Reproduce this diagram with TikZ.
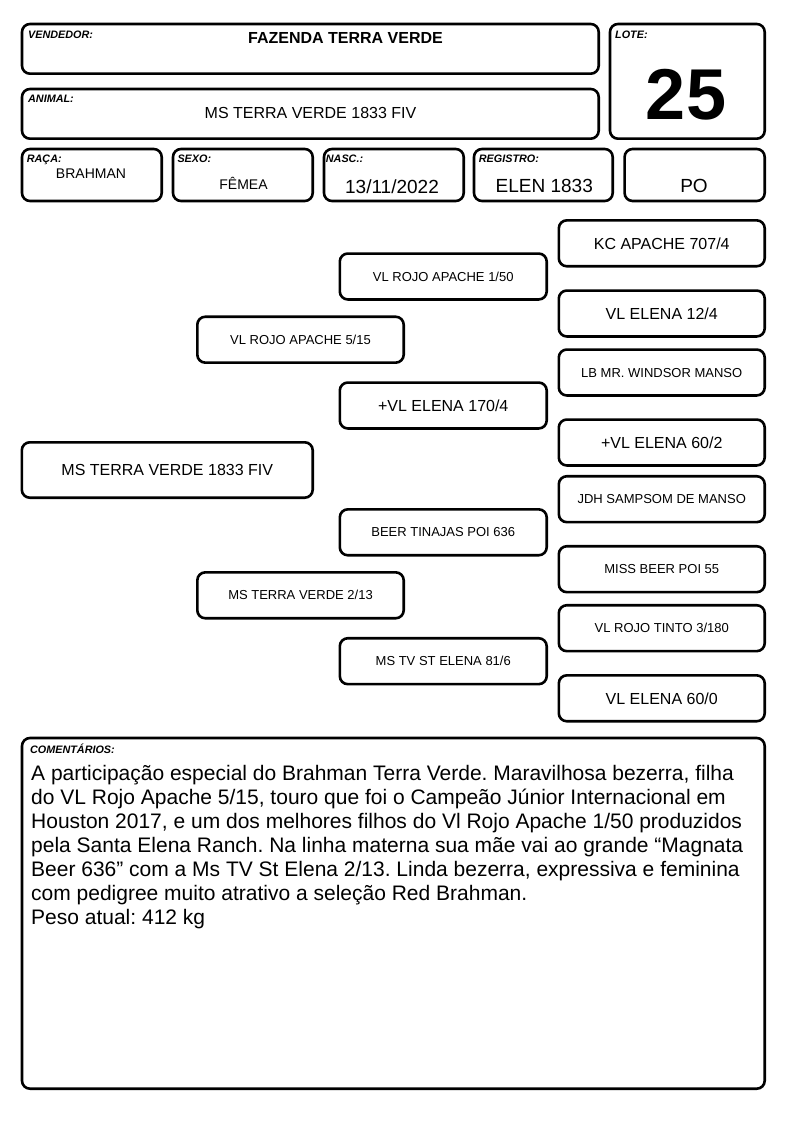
\documentclass[tikz,border=0pt]{standalone}
\usepackage{fontspec}
\setmainfont{Liberation Sans}
\frenchspacing
\begin{document}
\begin{tikzpicture}[x=1pt,y=-1pt,
  box/.style={draw, line width=2.6pt, rounded corners=8pt, inner sep=0pt},
  lbl/.style={anchor=base west, inner sep=0pt, font=\fontsize{10.8}{12}\selectfont\bfseries\itshape},
  val/.style={anchor=base, inner sep=0pt},
  pbig/.style={box, font=\fontsize{16}{18}\selectfont, text height=11.46pt, text depth=0pt},
  psmall/.style={box, font=\fontsize{13}{15}\selectfont, text height=9.31pt, text depth=0pt},
  rcol/.style={minimum width=205.9pt, minimum height=45.9pt},
  mcol/.style={minimum width=206.9pt, minimum height=45.9pt},
  lcol/.style={minimum width=206.4pt, minimum height=45.9pt},
  cell/.style={box, minimum height=52pt}
]
\useasboundingbox (0,0) rectangle (794,1123);

% ---- header boxes ----
\node[box, minimum width=576.7pt, minimum height=49.7pt] (vend) at (310.35,48.85) {};
\node[box, minimum width=576.7pt, minimum height=49.7pt] (anim) at (310.35,113.85) {};
\node[box, minimum width=154.7pt, minimum height=114.7pt] (lote) at (687.35,81.35) {};
\node[cell, minimum width=139.7pt] (raca) at (91.85,175) {};
\node[cell, minimum width=139.7pt] (sexo) at (242.85,175) {};
\node[cell, minimum width=139.7pt] (nasc) at (393.85,175) {};
\node[cell, minimum width=138.7pt] (reg) at (543.35,175) {};
\node[cell, minimum width=140.1pt] (po) at (694.65,175) {};

\node[lbl] (lvend) at (28,39) {VENDEDOR:};
\node[lbl] (llote) at (615,39) {LOTE:};
\node[lbl] (lanim) at (28,102.3) {ANIMAL:};
\node[lbl] (lraca) at (26.7,162.3) {RAÇA:};
\node[lbl] (lsexo) at (177.3,162.3) {SEXO:};
\node[lbl] (lnasc) at (325.7,162.3) {NASC.:};
\node[lbl] (lreg) at (478.7,162.3) {REGISTRO:};

\node[val, font=\fontsize{16}{18}\selectfont\bfseries] (tvend) at (345.5,43.3) {FAZENDA TERRA VERDE};
\node[val, font=\fontsize{16}{18}\selectfont] (tanim) at (310.5,119) {MS TERRA VERDE 1833 FIV};
\node[val, font=\fontsize{72}{80}\selectfont\bfseries] (tlote) at (686,120) {25};
\node[val, font=\fontsize{14}{16}\selectfont] (traca) at (91,178.3) {BRAHMAN};
\node[val, font=\fontsize{14}{16}\selectfont] (tsexo) at (243.5,189.3) {FÊMEA};
\node[val, font=\fontsize{19}{21}\selectfont] (tnasc) at (392,193.3) {13/11/2022};
\node[val, font=\fontsize{19}{21}\selectfont] (treg) at (544.3,193) {ELEN 1833};
\node[val, font=\fontsize{19}{21}\selectfont] (tpo) at (694,193) {PO};

% ---- pedigree ----
\node[pbig, rcol] (kc) at (661.75,243.3) {KC APACHE 707/4};
\node[psmall, mcol] (rojo150) at (443.25,276.5) {VL ROJO APACHE 1/50};
\node[pbig, rcol] (elena124) at (661.75,313.5) {VL ELENA 12/4};
\node[psmall, lcol] (rojo515) at (300.5,339.7) {VL ROJO APACHE 5/15};
\node[psmall, rcol] (windsor) at (661.75,372.5) {LB MR. WINDSOR MANSO};
\node[pbig, mcol] (elena1704) at (443.25,405.5) {+VL ELENA 170/4};
\node[pbig, rcol] (elena602) at (661.75,442.5) {+VL ELENA 60/2};
\node[pbig, minimum width=290.9pt, minimum height=55.4pt] (self) at (167.25,470) {MS TERRA VERDE 1833 FIV};
\node[psmall, rcol] (jdh) at (661.75,499.2) {JDH SAMPSOM DE MANSO};
\node[psmall, mcol] (beer) at (443.25,532.3) {BEER TINAJAS POI 636};
\node[psmall, rcol] (missbeer) at (661.75,569.2) {MISS BEER POI 55};
\node[psmall, lcol] (mstv213) at (300.5,595.3) {MS TERRA VERDE 2/13};
\node[psmall, rcol] (tinto) at (661.75,628.2) {VL ROJO TINTO 3/180};
\node[psmall, mcol] (stelena) at (443.25,661.2) {MS TV ST ELENA 81/6};
\node[pbig, rcol] (elena600) at (661.75,698.3) {VL ELENA 60/0};

% ---- comments ----
\node[box, minimum width=742.7pt, minimum height=350.7pt] (com) at (393.35,913.35) {};
\node[lbl] (lcom) at (30,753.3) {COMENTÁRIOS:};
\node[anchor=north west, inner sep=0pt, align=left, font=\fontsize{21}{24}\selectfont] (tcom) at (31,760.7)
{\rule{0pt}{20pt}A participação especial do Brahman Terra Verde. Maravilhosa bezerra, filha\\
do VL Rojo Apache 5/15, touro que foi o Campeão Júnior Internacional em\\
Houston 2017, e um dos melhores filhos do Vl Rojo Apache 1/50 produzidos\\
pela Santa Elena Ranch. Na linha materna sua mãe vai ao grande “Magnata\\
Beer 636” com a Ms TV St Elena 2/13. Linda bezerra, expressiva e feminina\\
com pedigree muito atrativo a seleção Red Brahman.\\
Peso atual: 412 kg};
\end{tikzpicture}
\end{document}
